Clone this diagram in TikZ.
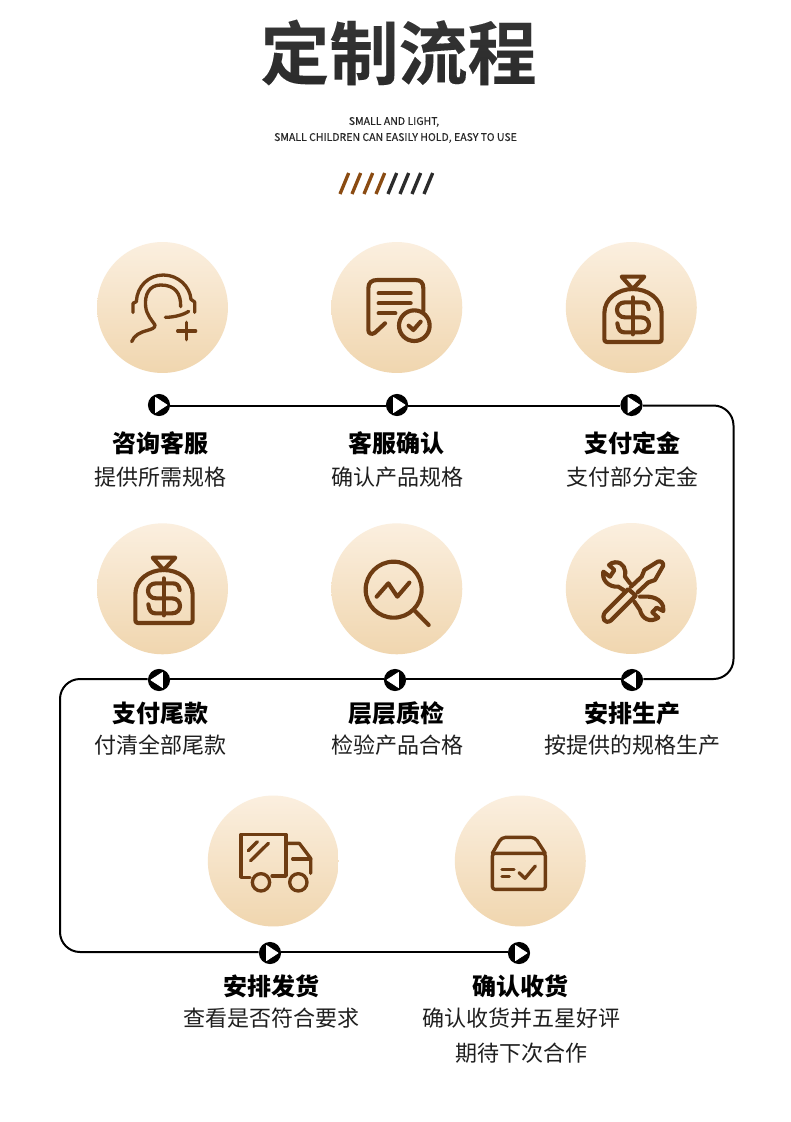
\documentclass[tikz,border=0pt]{standalone}
\usepackage{fontspec}
\usetikzlibrary{fadings,calc}
\setmainfont{Noto Sans CJK SC}
\newfontfamily\engfont[FakeBold=0.35]{Noto Sans CJK SC}
\newfontfamily\titlefont[FakeBold=0.15]{Noto Sans CJK SC Bold}
\definecolor{iconbrown}{HTML}{6E3C12}
\definecolor{slashbrown}{HTML}{8A4B12}
\definecolor{slashdark}{HTML}{2B2B2B}
\definecolor{disctop}{HTML}{FBEFDF}
\definecolor{discbot}{HTML}{F0D6AF}
\tikzfading[name=titlefade, top color=transparent!90, middle color=transparent!62, bottom color=transparent!95]
\tikzset{
  x=0.75pt, y=-0.75pt,
  disc/.style={circle, minimum size=98.2pt, inner sep=0pt, top color=disctop, bottom color=discbot},
  icon/.style={draw=iconbrown, line width=3.1pt, line cap=round, line join=round},
  thin icon/.style={icon, line width=2.5pt},
  btn/.style={circle, fill=black, minimum size=16.6pt, inner sep=0pt},
  tri/.style={fill=white, draw=white, line width=0.6pt, line join=round},
  flow/.style={draw=black, line width=1.5pt, rounded corners=15pt},
  head/.style={inner sep=0pt, font=\fontsize{18pt}{20pt}\selectfont\bfseries, text=black},
  sub/.style={inner sep=0pt, font=\fontsize{16.5pt}{20pt}\selectfont, text=black!88},
  eng/.style={inner sep=0pt, font=\engfont\fontsize{7.9pt}{10pt}\selectfont, text=black!85},
  slash/.style={line width=2.5pt},
  zoomed/.style={x=0.25pt, y=-0.25pt},
}
\newcommand{\bagicon}[2]{%
  \begin{scope}[shift={(#1,#2)}, zoomed]
    \draw[icon] (218,162) -- (185,125) -- (253,125) -- cycle;
    \draw[icon] (133,235) .. controls (133,190) and (175,162) .. (218,162)
      .. controls (262,162) and (305,190) .. (305,235) -- (305,312)
      .. controls (305,318) and (303,321) .. (297,321) -- (141,321)
      .. controls (135,321) and (133,318) .. (133,312) -- cycle;
    \draw[icon] (266,222) .. controls (264,207) and (256,202) .. (245,202) -- (195,202)
      .. controls (163,202) and (163,247) .. (195,247) -- (243,247)
      .. controls (275,247) and (275,292) .. (243,292) -- (193,292)
      .. controls (182,292) and (174,285) .. (172,265);
    \draw[icon] (218,187) -- (218,298);
  \end{scope}}
\newcommand{\playtri}[1]{\filldraw[tri] ($(#1)+(-3.5,-7.5)$) -- ($(#1)+(8,0)$) -- ($(#1)+(-3.5,7.5)$) -- cycle;}
\newcommand{\backtri}[1]{\filldraw[tri] ($(#1)+(3.5,-7.5)$) -- ($(#1)+(-8,0)$) -- ($(#1)+(3.5,7.5)$) -- cycle;}
\begin{document}
\begin{tikzpicture}
\useasboundingbox (0,0) rectangle (790,1122);
\fill[white] (0,0) rectangle (790,1122);

% title
\node[inner sep=0pt, text=black!88] (title) at (398.5,52.5)
  {\titlefont\fontsize{51.8pt}{56pt}\selectfont 定制流程};
\fill[white, path fading=titlefade] (250,16) rectangle (546,90);
\node[eng] (en1) at (394,122) {SMALL AND LIGHT,};
\node[eng] (en2) at (395.5,138) {SMALL CHILDREN CAN EASILY HOLD, EASY TO USE};

% slashes
\foreach \xx in {0,1,2,3}
  \draw[slash, slashbrown] ({340+12*\xx},194) -- ({348.7+12*\xx},173);
\foreach \xx in {4,5,6,7}
  \draw[slash, slashdark] ({340+12*\xx},194) -- ({348.7+12*\xx},173);

% discs
\node[disc] (d1) at (162.5,307.5) {};
\node[disc] (d2) at (396.8,307.5) {};
\node[disc] (d3) at (631.3,307.5) {};
\node[disc] (d4) at (162.5,588.8) {};
\node[disc] (d5) at (396.8,588.8) {};
\node[disc] (d6) at (631.3,588.5) {};
\node[disc] (d7) at (273.3,861) {};
\node[disc] (d8) at (520.3,861) {};

% headset icon
\begin{scope}[shift={(125,270)}, zoomed]
  \draw[thin icon] (24,127) -- (24,100) -- (34,95) .. controls (36,50) and (70,15) .. (115,15)
     .. controls (160,15) and (195,50) .. (198,88) -- (209,96) -- (209,127);
  \draw[thin icon] (167,110) .. controls (168,70) and (150,45) .. (107,45)
     .. controls (72,45) and (58,75) .. (62,110)
     .. controls (65,135) and (80,150) .. (90,165) .. controls (90,175) and (80,177) .. (68,181)
     .. controls (45,187) and (28,195) .. (20,215);
  \draw[thin icon] (121,142) .. controls (145,142) and (175,135) .. (191,124);
  \draw[thin icon] (158,183) -- (212,183);
  \draw[thin icon] (185,157) -- (185,209);
\end{scope}

% document icon
\begin{scope}[shift={(90,235)}, zoomed]
  \draw[icon] (885,265) -- (855,293) .. controls (845,300) and (835,296) .. (835,285) -- (835,160)
     .. controls (835,143) and (845,135) .. (862,135) -- (975,135)
     .. controls (992,135) and (1000,143) .. (1000,160) -- (1000,228);
  \draw[icon] (866,175) -- (962,175);
  \draw[icon] (866,205) -- (962,205);
  \draw[icon] (866,235) -- (916,235);
  \draw[icon] (973,272) circle[radius=46];
  \draw[icon] (956,272) -- (970,285) -- (992,260);
\end{scope}

\bagicon{560}{235}
\bagicon{91}{516}

% magnifier icon
\begin{scope}[shift={(320,520)}, zoomed]
  \draw[icon] (221,209) circle[radius=84];
  \draw[icon] (282,270) -- (326,315);
  \draw[icon] (170,230) -- (205,190) -- (232,230) -- (268,188);
\end{scope}

% tools icon
\begin{scope}[shift={(595,555)}, zoomed]
  \draw[icon] (30,172) -- (100,102) -- (122,122) -- (47,197)
     .. controls (30,208) and (18,190) .. (30,172);
  \draw[icon] (108,95) -- (140,65) -- (148,45) -- (188,20) .. controls (198,16) and (207,24) .. (204,33)
     -- (180,75) -- (160,82) -- (128,112);
  \draw[icon] (60,22) .. controls (85,20) and (95,45) .. (90,65) -- (105,85);
  \draw[icon] (135,125) -- (160,125) .. controls (195,128) and (208,150) .. (205,168)
     -- (185,158) -- (172,172) -- (190,188) .. controls (165,205) and (140,190) .. (135,165) -- (118,140);
  \draw[icon] (90,108) -- (70,95) .. controls (40,97) and (20,75) .. (25,50) -- (45,65) -- (58,45) -- (42,30)
     .. controls (47,25) and (53,22) .. (60,22);
\end{scope}

% truck icon
\begin{scope}[shift={(200,790)}, zoomed]
  \draw[thin icon] (150,262) -- (123,262) -- (123,133) -- (258,133) -- (258,258) -- (216,258);
  \draw[thin icon] (258,160) -- (298,160) -- (332,205) -- (332,250);
  \draw[thin icon] (278,207) -- (332,207);
  \draw[thin icon] (183,277) circle[radius=26];
  \draw[thin icon] (295,277) circle[radius=26];
  \draw[thin icon] (145,182) -- (172,155);
  \draw[thin icon] (152,212) -- (205,160);
\end{scope}

% box icon
\begin{scope}[shift={(200,790)}, zoomed]
  \draw[thin icon, rounded corners=2pt] (877,190) -- (1036,190) -- (1036,298) -- (877,298) -- cycle;
  \draw[thin icon, rounded corners=3pt] (877,190) -- (905,142) -- (1005,142) -- (1036,190);
  \draw[thin icon] (906,238) -- (942,238);
  \draw[thin icon] (906,260) -- (928,260);
  \draw[thin icon] (957,248) -- (975,265) -- (1006,228);
\end{scope}

% buttons
\node[btn] (b1) at (159,405) {};
\node[btn] (b2) at (397,405) {};
\node[btn] (b3) at (631.5,405) {};
\node[btn] (b4) at (632,680) {};
\node[btn] (b5) at (395,680) {};
\node[btn] (b6) at (159,680) {};
\node[btn] (b7) at (270,953) {};
\node[btn] (b8) at (519,953) {};
\playtri{b1}\playtri{b2}\playtri{b3}
\backtri{b4}\backtri{b5}\backtri{b6}
\playtri{b7}\playtri{b8}

% connectors
\coordinate (c1) at (733.5,405.5);
\coordinate (c2) at (733.5,679);
\coordinate (c3) at (60,679);
\coordinate (c4) at (60,952);
\draw[flow] (b1.east |- 0,405.5) -- (b2.west |- 0,405.5);
\draw[flow] (b2.east |- 0,405.5) -- (b3.west |- 0,405.5);
\draw[flow] (b3.east |- 0,405.5) -- (c1) -- (c2) -- (b4.east |- 0,679);
\draw[flow] (b4.west |- 0,679) -- (b5.east |- 0,679);
\draw[flow] (b5.west |- 0,679) -- (b6.east |- 0,679);
\draw[flow] (b6.west |- 0,679) -- (c3) -- (c4) -- (b7.west |- 0,952);
\draw[flow] (b7.east |- 0,952) -- (b8.west |- 0,952);

% labels
\node[head] (h1) at (160.5,443) {咨询客服};
\node[sub]  (s1) at (160,477) {提供所需规格};
\node[head] (h2) at (396.5,443) {客服确认};
\node[sub]  (s2) at (397,477) {确认产品规格};
\node[head] (h3) at (632,443) {支付定金};
\node[sub]  (s3) at (632,477) {支付部分定金};
\node[head] (h4) at (160,713) {支付尾款};
\node[sub]  (s4) at (160,745) {付清全部尾款};
\node[head] (h5) at (396.5,713) {层层质检};
\node[sub]  (s5) at (397,745) {检验产品合格};
\node[head] (h6) at (632,713) {安排生产};
\node[sub]  (s6) at (632,745) {按提供的规格生产};
\node[head] (h7) at (271,986) {安排发货};
\node[sub]  (s7) at (271,1018) {查看是否符合要求};
\node[head] (h8) at (520,986) {确认收货};
\node[sub]  (s8) at (521,1018) {确认收货并五星好评};
\node[sub]  (s9) at (521,1053) {期待下次合作};
\end{tikzpicture}
\end{document}
